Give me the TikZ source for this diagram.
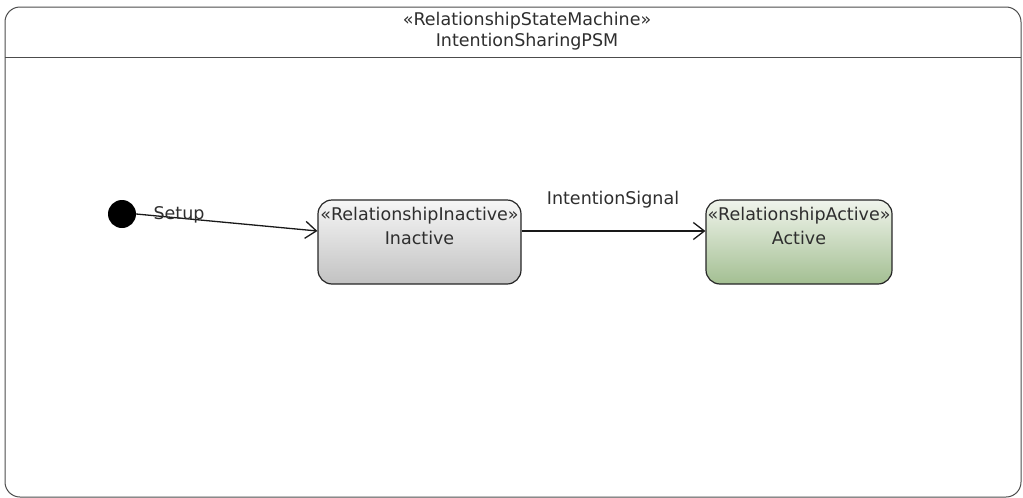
\documentclass[tikz,border=0pt]{standalone}
\usepackage{fontspec}
\setmainfont{DejaVu Sans}
\usetikzlibrary{arrows.meta}
\definecolor{txt}{HTML}{2E2E2E}
\definecolor{inTop}{HTML}{F6F6F6}
\definecolor{inBot}{HTML}{C2C2C2}
\definecolor{acTop}{HTML}{F0F4EC}
\definecolor{acBot}{HTML}{A3BF92}
\tikzset{
  frame/.style={draw=black!70, line width=1pt, rounded corners=15pt},
  statebox/.style={draw=black!85, line width=1.2pt, rounded corners=14pt, minimum height=84pt, inner sep=0pt},
  statetext/.style={anchor=north, align=center, text=txt, inner sep=0pt, font=\fontsize{17.5}{24}\selectfont},
  lbl/.style={text=txt, inner sep=0pt, font=\fontsize{17.5}{21}\selectfont},
  trans/.style={draw=black!90, line width=1.3pt, -{Straight Barb[length=11pt,width=17pt,line width=1.3pt]}},
  initial/.style={circle, fill=black, minimum size=28pt, inner sep=0pt}
}
\begin{document}
\begin{tikzpicture}[x=1pt,y=-1pt]
\useasboundingbox (0,0) rectangle (1023,498);
\draw[frame] (5,7) rectangle (1021,497);
\draw[draw=black!70, line width=1pt] (5,57) -- (1021,57);
\node[lbl, align=center] (title) at (527,31) {«RelationshipStateMachine»\\IntentionSharingPSM};

\node[initial] (init) at (122,214) {};
\node[statebox, minimum width=203pt, top color=inTop, bottom color=inBot] (inactive) at (419.5,242) {};
\node[statetext] (inactivet) at (419.5,207) {«RelationshipInactive»\\Inactive};
\node[statebox, minimum width=186pt, top color=acTop, bottom color=acBot] (active) at (799,242) {};
\node[statetext] (activet) at (799,207) {«RelationshipActive»\\Active};

\draw[trans] (init.east) -- ([yshift=11pt]inactive.west);
\node[lbl] (setup) at (179,215) {Setup};
\draw[trans] ([yshift=11pt]inactive.east) -- ([yshift=11pt]active.west);
\node[lbl] (sig) at (613,200) {IntentionSignal};
\end{tikzpicture}
\end{document}
